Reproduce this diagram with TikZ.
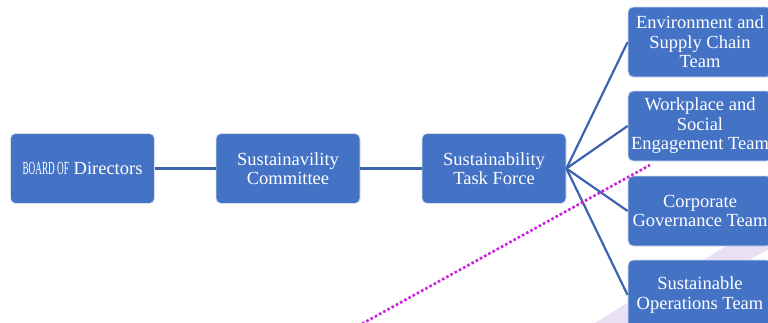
\documentclass[tikz,border=0pt]{standalone}
\usepackage{fontspec}
\setmainfont{Liberation Serif}
\newfontfamily\tnr{Liberation Serif}
\usepackage{graphicx}
\definecolor{boxblue}{HTML}{4472C4}
\definecolor{boxedge}{HTML}{D6E0F2}
\definecolor{linkblue}{HTML}{3D62AE}
\definecolor{dotmag}{HTML}{CC22DD}
\definecolor{lav}{HTML}{EAE0F3}
\begin{document}
\begin{tikzpicture}[x=1pt,y=-1pt,
  box/.style={draw=boxedge, fill=boxblue, rounded corners=5pt, line width=0.8pt,
    minimum width=144pt, minimum height=70pt, text=white, align=center,
    font=\tnr\fontsize{18.5}{19.5}\selectfont, inner sep=1pt},
  link/.style={draw=linkblue, line width=2.2pt},
  dotline/.style={draw=dotmag, line width=2.6pt, dash pattern=on 2.6pt off 2.2pt}]
\useasboundingbox (0,0) rectangle (768,322);
\clip (0,0) rectangle (768,322);
% faint background shapes
\fill[lav] (590,326) -- (632,300) -- (632,326) -- cycle;
\fill[lav] (700,262) -- (728,245) -- (768,245) -- (768,250) -- (745,262) -- cycle;
% nodes
\node[box] (board) at (82.5,168.5) {\scalebox{0.5}[1]{BOARD OF} Directors};
\node[box] (comm) at (288,168.5) {Sustainavility\\Committee};
\node[box] (task) at (494,168.5) {Sustainability\\Task Force};
\node[box] (env) at (700,42) {Environment and\\Supply Chain\\Team};
\node[box] (work) at (700,126) {Workplace and\\Social\\Engagement Team};
\node[box] (gov) at (700,211) {Corporate\\Governance Team};
\node[box] (ops) at (700,295) {Sustainable\\Operations Team};
% connectors
\draw[link] (board.east) -- (comm.west);
\draw[link] (comm.east) -- (task.west);
\draw[link] (task.east) -- (env.west);
\draw[link] (task.east) -- (work.west);
\draw[link] (task.east) -- (gov.west);
\draw[link] (task.east) -- (ops.west);
% dotted line
\coordinate (d1) at (358,326);
\coordinate (d2) at (650,165);
\draw[dotline] (d1) -- (d2);
\end{tikzpicture}
\end{document}
